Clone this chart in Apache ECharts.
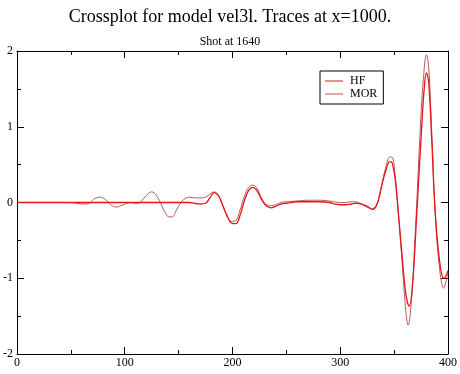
<!DOCTYPE html>
<html>
<head>
<meta charset="utf-8">
<script src="https://cdn.jsdelivr.net/npm/echarts@6/dist/echarts.min.js"></script>
<style>
  html, body { margin: 0; padding: 0; background: #fff; }
  #chart { width: 460px; height: 374px; }
</style>
</head>
<body>
<div id="chart"></div>
<script>
// trace samples
var hfX = [0, 50, 100, 150, 160, 165, 170, 175, 179, 183, 187, 191, 195, 199, 203, 207, 211, 215, 219, 223, 227, 231, 236, 240, 245, 250, 260, 270, 280, 290, 295, 300, 305, 310, 315, 320, 325, 330, 334, 338, 342, 346, 348, 351, 354, 358, 361, 364, 367, 371, 375, 378, 380, 382, 385, 388, 392, 396, 398, 400];
var hfY = [0, 0, 0, 0, 0, -0.01, -0.02, -0.01, 0.06, 0.13, 0.09, -0.04, -0.18, -0.27, -0.28, -0.17, 0.02, 0.16, 0.2, 0.15, 0.04, -0.04, -0.07, -0.05, -0.02, -0.01, 0.01, 0.01, 0.01, 0, -0.02, -0.03, -0.03, -0.02, -0.01, -0.02, -0.05, -0.09, -0.03, 0.19, 0.41, 0.54, 0.53, 0.3, -0.15, -0.8, -1.22, -1.37, -1.1, -0.15, 0.85, 1.52, 1.71, 1.6, 0.8, -0.1, -0.75, -1.0, -0.97, -0.9];

var morX = [0, 50, 55, 60, 65, 68, 72, 77, 82, 87, 92, 97, 102, 106, 110, 114, 118, 122, 125, 129, 133, 137, 141, 144, 148, 152, 156, 160, 165, 170, 175, 179, 183, 187, 191, 195, 199, 203, 207, 211, 215, 219, 223, 227, 231, 236, 240, 245, 250, 260, 270, 280, 290, 300, 305, 310, 314, 318, 322, 326, 330, 334, 338, 342, 346, 348, 351, 354, 358, 361, 363, 366, 370, 374, 377, 380, 382, 385, 388, 392, 396, 398, 400];
var morY = [0, 0, -0.01, -0.02, -0.02, 0, 0.05, 0.07, 0.04, -0.03, -0.06, -0.04, -0.01, 0, -0.01, 0, 0.06, 0.12, 0.14, 0.1, 0, -0.12, -0.19, -0.19, -0.1, 0, 0.05, 0.07, 0.06, 0.06, 0.07, 0.11, 0.14, 0.09, -0.04, -0.17, -0.25, -0.24, -0.1, 0.08, 0.2, 0.23, 0.18, 0.06, -0.02, -0.04, -0.03, 0, 0.01, 0.02, 0.03, 0.03, 0.02, 0, 0, 0.01, 0.01, -0.01, -0.04, -0.07, -0.08, -0.02, 0.2, 0.45, 0.6, 0.6, 0.35, -0.15, -0.9, -1.45, -1.62, -1.3, -0.3, 0.9, 1.6, 1.95, 1.8, 0.9, -0.1, -0.85, -1.13, -1.05, -0.92];

var seriesNames = ['HF', 'MOR'];

function pairs(xs, ys) {
  return xs.map(function (x, i) { return [x, ys[i]]; });
}

var serif = '"Liberation Serif", "DejaVu Serif", serif';
var black = '#000';

function axisBase(extra) {
  var a = {
    type: 'value',
    axisLine: { show: true, onZero: false, lineStyle: { color: black, width: 1 } },
    axisTick: { show: true, inside: true, length: 7, lineStyle: { color: black } },
    minorTick: { show: true, splitNumber: 2, length: 4, lineStyle: { color: black } },
    splitLine: { show: false },
    axisLabel: { color: black, fontFamily: serif, fontSize: 12 }
  };
  for (var k in extra) a[k] = extra[k];
  return a;
}

var chart = echarts.init(document.getElementById('chart'));
chart.setOption({
  animation: false,
  backgroundColor: '#fff',
  title: [{
    text: 'Crossplot for model vel3l. Traces at x=1000.',
    left: 'center', top: 3,
    textStyle: { fontFamily: serif, fontSize: 18, fontWeight: 'normal', color: black }
  }, {
    text: 'Shot at 1640',
    left: 'center', top: 31,
    textStyle: { fontFamily: serif, fontSize: 12, fontWeight: 'normal', color: black }
  }],
  legend: {
    data: seriesNames,
    orient: 'vertical',
    left: 320, top: 71,
    padding: [4, 6, 4, 5],
    itemGap: 1,
    itemWidth: 18,
    itemHeight: 10,
    borderColor: black,
    borderWidth: 1,
    backgroundColor: '#fff',
    icon: 'path://M0,5L18,5L18,6L0,6Z',
    textStyle: { fontFamily: serif, fontSize: 12, color: black, padding: [0, 0, 0, 2] }
  },
  grid: { left: 16, right: 9, top: 51, bottom: 20 },
  xAxis: [
    axisBase({ min: 0, max: 400, interval: 100, position: 'bottom',
      axisLabel: { color: black, fontFamily: serif, fontSize: 12, margin: 3 } }),
    axisBase({ min: 0, max: 400, interval: 100, position: 'top', axisLabel: { show: false } })
  ],
  yAxis: [
    axisBase({ min: -2, max: 2, interval: 1, position: 'left',
      axisLabel: { color: black, fontFamily: serif, fontSize: 12, margin: 4 } }),
    axisBase({ min: -2, max: 2, interval: 1, position: 'right', axisLabel: { show: false } })
  ],
  series: [{
    name: 'HF',
    type: 'line',
    data: pairs(hfX, hfY),
    smooth: 0.4,
    showSymbol: false,
    lineStyle: { color: '#e8141a', width: 1.3 },
    itemStyle: { color: '#e8141a' },
    z: 3
  }, {
    name: 'MOR',
    type: 'line',
    data: pairs(morX, morY),
    smooth: 0.4,
    showSymbol: false,
    lineStyle: { color: '#b85a58', width: 1 },
    itemStyle: { color: '#b85a58' },
    z: 2
  }]
});
</script>
</body>
</html>
